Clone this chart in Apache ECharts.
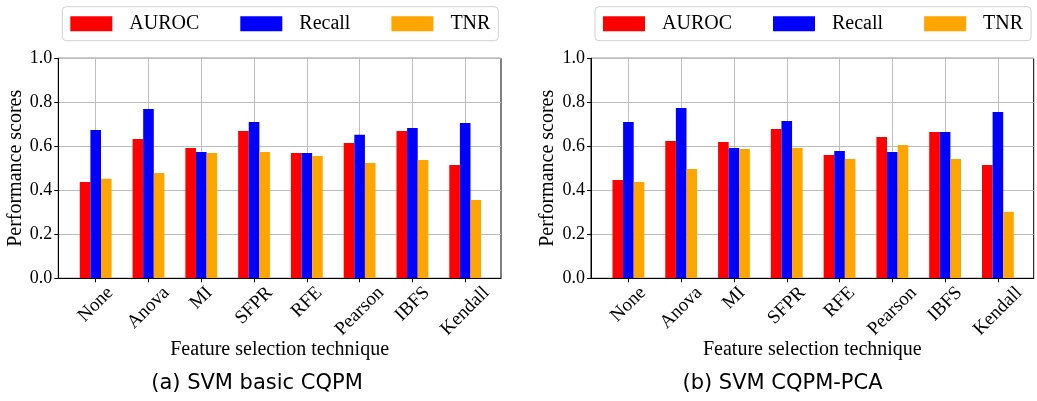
<!DOCTYPE html>
<html>
<head>
<meta charset="utf-8">
<script src="https://cdn.jsdelivr.net/npm/echarts@6/dist/echarts.min.js"></script>
<style>
  html, body { margin: 0; padding: 0; background: #fff; }
  #chart { width: 1037px; height: 401px; }
</style>
</head>
<body>
<div id="chart"></div>
<script>
const techniques = ['None', 'Anova', 'MI', 'SFPR', 'RFE', 'Pearson', 'IBFS', 'Kendall'];
const metrics = ['AUROC', 'Recall', 'TNR'];
const colors = ['#ff0000', '#0000ff', '#ffa500'];

// (a) SVM basic CQPM
const basicAuroc  = [0.438, 0.633, 0.592, 0.670, 0.570, 0.615, 0.670, 0.515];
const basicRecall = [0.674, 0.770, 0.574, 0.711, 0.570, 0.652, 0.683, 0.706];
const basicTnr    = [0.452, 0.479, 0.570, 0.574, 0.556, 0.524, 0.538, 0.356];

// (b) SVM CQPM-PCA
const pcaAuroc  = [0.447, 0.624, 0.620, 0.679, 0.561, 0.642, 0.665, 0.515];
const pcaRecall = [0.711, 0.774, 0.592, 0.715, 0.579, 0.574, 0.665, 0.756];
const pcaTnr    = [0.438, 0.497, 0.588, 0.592, 0.542, 0.606, 0.542, 0.302];

const captions = ['(a) SVM basic CQPM', '(b) SVM CQPM-PCA'];

const SERIF = 'Liberation Serif';
const panels = [
  { dx: 0, capX: 257, values: [basicAuroc, basicRecall, basicTnr] },
  { dx: 532.7, capX: 782.5, values: [pcaAuroc, pcaRecall, pcaTnr] }
];

// measure text to place rotated tick labels the way matplotlib centres them
const ctx = document.createElement('canvas').getContext('2d');
const measure = (txt, font) => { ctx.font = font; return ctx.measureText(txt).width; };

const labelRich = {};
techniques.forEach((t, i) => {
  const w = measure(t, '19px "' + SERIF + '"');
  const p = Math.SQRT2 * 11.6 + w / 2;
  labelRich['t' + i] = { fontFamily: SERIF, fontSize: 19, color: '#000', padding: [p, p, 0, 0] };
});

const grid = [], xAxis = [], yAxis = [], series = [], legend = [], title = [];

panels.forEach((pn, k) => {
  const top = 58.3, h = 220;
  // frame grid (box, y ticks, horizontal grid)
  grid.push({ left: 58.3 + pn.dx, top: top, width: 442.7, height: h,
    show: true, borderColor: '#000', borderWidth: 1, backgroundColor: '#fff' });
  // bar grid, spans first to last category tick
  grid.push({ left: 95.7 + pn.dx, top: top, width: 369.5, height: h });

  xAxis.push({
    gridIndex: 2 * k, type: 'value', min: 0, max: 1, z: 5,
    axisLine: { show: true, onZero: false, lineStyle: { color: '#000', width: 1 } },
    axisTick: { show: false }, axisLabel: { show: false }, splitLine: { show: false },
    name: 'Feature selection technique', nameLocation: 'middle', nameGap: 61,
    nameTextStyle: { fontFamily: SERIF, fontSize: 20, color: '#000' }
  });
  xAxis.push({
    gridIndex: 2 * k + 1, type: 'category', data: techniques, boundaryGap: false,
    axisLine: { show: false },
    axisTick: { show: true, length: 4, lineStyle: { color: '#000' } },
    splitLine: { show: true, lineStyle: { color: '#bdbdbd', width: 1 } },
    axisLabel: {
      interval: 0, rotate: 45, margin: 0, align: 'center', verticalAlign: 'middle',
      formatter: (v, i) => '{t' + i + '|' + v + '}', rich: labelRich
    }
  });
  yAxis.push({
    gridIndex: 2 * k, type: 'value', min: 0, max: 1, interval: 0.2,
    axisLine: { show: true, lineStyle: { color: '#000' } },
    axisTick: { show: true, length: 4, lineStyle: { color: '#000' } },
    axisLabel: { margin: 6, fontFamily: SERIF, fontSize: 18, color: '#000',
      formatter: v => v.toFixed(1) },
    splitLine: { show: true, lineStyle: { color: '#bdbdbd', width: 1 } },
    name: 'Performance scores', nameLocation: 'middle', nameGap: 33, nameRotate: 90,
    nameTextStyle: { fontFamily: SERIF, fontSize: 20, color: '#000' }
  });
  yAxis.push({ gridIndex: 2 * k + 1, type: 'value', min: 0, max: 1, show: false });

  metrics.forEach((m, j) => {
    series.push({
      name: m, type: 'bar', xAxisIndex: 2 * k + 1, yAxisIndex: 2 * k + 1,
      data: pn.values[j], barWidth: 10.6, barGap: '0%', clip: false,
      itemStyle: { color: colors[j] }
    });
  });

  legend.push({
    data: metrics, left: 62.3 + pn.dx, top: 6.7, orient: 'horizontal',
    icon: 'rect', itemWidth: 42, itemHeight: 15, itemGap: 41,
    padding: [7, 8, 7, 8], borderColor: '#d0d0d0', borderWidth: 1, borderRadius: 4,
    backgroundColor: '#fff',
    textStyle: { fontFamily: SERIF, fontSize: 20, color: '#000', padding: [0, 0, 0, 12] }
  });

  const capW = measure(captions[k], '21px "DejaVu Sans"');
  title.push({
    text: captions[k], left: pn.capX - capW / 2, top: 373, padding: 0,
    textStyle: { fontFamily: 'DejaVu Sans', fontSize: 21, fontWeight: 'normal', color: '#000' }
  });
});

const chart = echarts.init(document.getElementById('chart'));
chart.setOption({ animation: false, title, legend, grid, xAxis, yAxis, series });
window.addEventListener('resize', () => chart.resize());
</script>
</body>
</html>
